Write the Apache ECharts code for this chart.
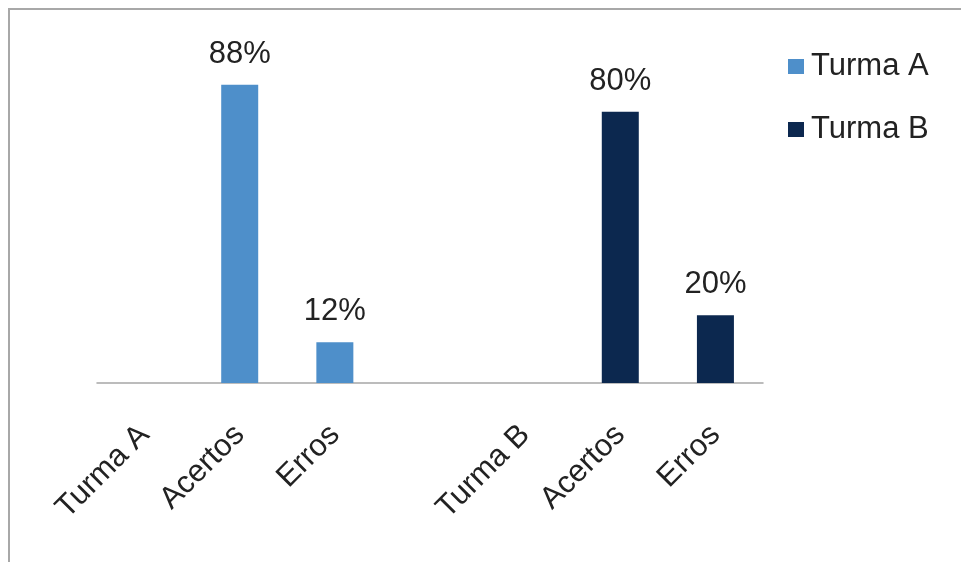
<!DOCTYPE html>
<html>
<head>
<meta charset="utf-8">
<script src="https://cdn.jsdelivr.net/npm/echarts@6/dist/echarts.min.js"></script>
<style>
html,body{margin:0;padding:0;background:#fff;}
#main{width:961px;height:562px;}
</style>
</head>
<body>
<div id="main"></div>
<script>
var categories = ['Turma A', 'Acertos', 'Erros', '', 'Turma B', 'Acertos', 'Erros'];
var turmaA = ['-', 88, 12, '-', '-', '-', '-'];
var turmaB = ['-', '-', '-', '-', '-', 80, 20];
var seriesNames = ['Turma A', 'Turma B'];

var chart = echarts.init(document.getElementById('main'), null, {renderer: 'canvas'});
var FONT = 'Liberation Sans, Arial, sans-serif';
var labelCfg = {
  show: true,
  position: 'top',
  distance: 15,
  formatter: '{c}%',
  fontFamily: FONT,
  fontSize: 31,
  color: '#222'
};
chart.setOption({
  animation: false,
  graphic: [{
    type: 'rect',
    shape: {x: 9, y: 9, width: 1000, height: 600},
    style: {fill: 'none', stroke: '#a8a8a8', lineWidth: 2},
    silent: true
  }],
  legend: {
    orient: 'vertical',
    left: 783,
    top: 46,
    itemWidth: 16,
    itemHeight: 15,
    itemGap: 32,
    icon: 'rect',
    textStyle: {fontFamily: FONT, fontSize: 31, color: '#222', padding: [0, 0, 0, 2]},
    data: seriesNames
  },
  grid: {left: 97, right: 198, top: 44, bottom: 179, containLabel: false},
  xAxis: {
    type: 'category',
    data: categories,
    axisLine: {lineStyle: {color: '#a6a6a6', width: 1.5}},
    axisTick: {show: false},
    axisLabel: {
      interval: 0,
      rotate: 45,
      margin: 47,
      fontFamily: FONT,
      fontSize: 31,
      color: '#222'
    }
  },
  yAxis: {
    type: 'value',
    min: 0,
    max: 100,
    show: false
  },
  series: [
    {name: seriesNames[0], type: 'bar', stack: 's', data: turmaA, barWidth: 37,
     itemStyle: {color: '#4e8fca'}, label: labelCfg},
    {name: seriesNames[1], type: 'bar', stack: 's', data: turmaB, barWidth: 37,
     itemStyle: {color: '#0c284f'}, label: labelCfg}
  ]
});
</script>
</body>
</html>
